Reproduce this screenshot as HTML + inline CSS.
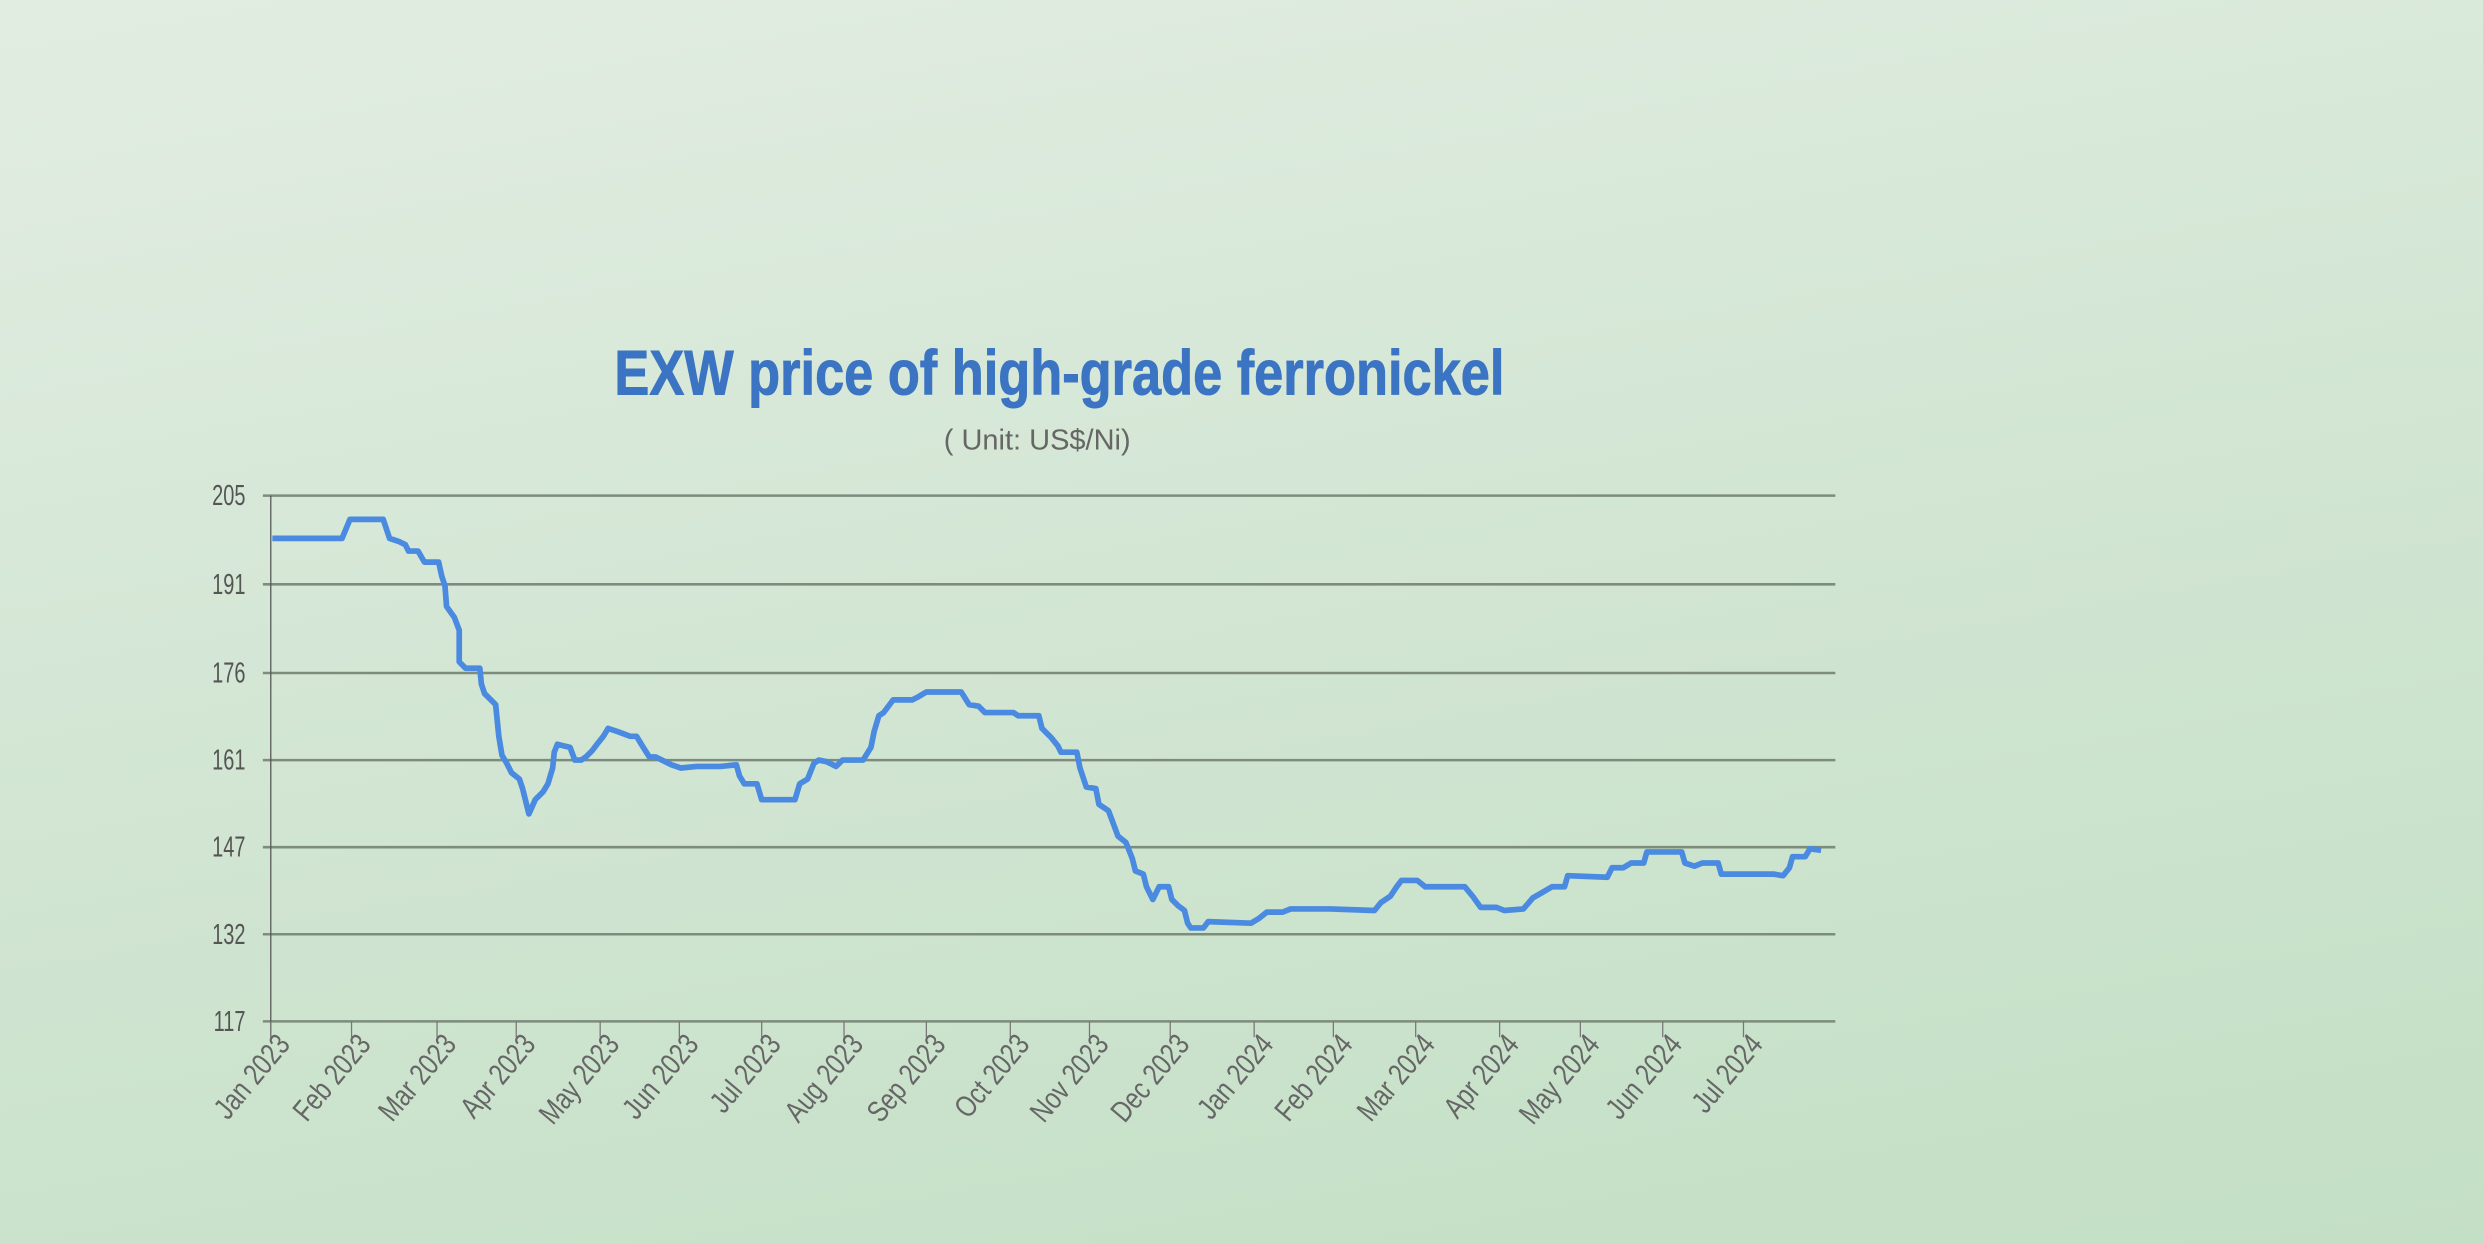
<!DOCTYPE html>
<html><head><meta charset="utf-8"><style>
html,body{margin:0;padding:0;width:2483px;height:1244px;overflow:hidden;}
body{background:linear-gradient(170deg,#e2ede2 0%,#d3e6d4 45%,#c3dfc5 100%);}
svg{display:block}
text{font-family:"Liberation Sans",sans-serif;}
</style></head><body>
<svg width="2483" height="1244" viewBox="0 0 1568 785.6" preserveAspectRatio="none">
<text x="388" y="249" font-size="40" font-weight="bold" fill="#3b74c2" stroke="#3b74c2" stroke-width="0.6" textLength="562" lengthAdjust="spacingAndGlyphs">EXW price of high-grade ferronickel</text>
<text x="596" y="284" font-size="18" fill="#666" textLength="118" lengthAdjust="spacingAndGlyphs">( Unit: US$/Ni)</text>
<g stroke="#7d8c7d" stroke-width="1.6">
<line x1="166" y1="313" x2="1159" y2="313"/>
<line x1="166" y1="369" x2="1159" y2="369"/>
<line x1="166" y1="425" x2="1159" y2="425"/>
<line x1="166" y1="480" x2="1159" y2="480"/>
<line x1="166" y1="535" x2="1159" y2="535"/>
<line x1="166" y1="590" x2="1159" y2="590"/>
<line x1="166" y1="645" x2="1159" y2="645"/>
</g>
<line x1="171" y1="313" x2="171" y2="655" stroke="#555" stroke-width="0.8"/>
<g stroke="#777" stroke-width="0.8">
<line x1="171" y1="645" x2="171" y2="655"/><line x1="222" y1="645" x2="222" y2="655"/><line x1="276" y1="645" x2="276" y2="655"/><line x1="326" y1="645" x2="326" y2="655"/><line x1="379" y1="645" x2="379" y2="655"/><line x1="429" y1="645" x2="429" y2="655"/><line x1="481" y1="645" x2="481" y2="655"/><line x1="533" y1="645" x2="533" y2="655"/><line x1="585" y1="645" x2="585" y2="655"/><line x1="638" y1="645" x2="638" y2="655"/><line x1="688" y1="645" x2="688" y2="655"/><line x1="739" y1="645" x2="739" y2="655"/><line x1="792" y1="645" x2="792" y2="655"/><line x1="842" y1="645" x2="842" y2="655"/><line x1="894" y1="645" x2="894" y2="655"/><line x1="947" y1="645" x2="947" y2="655"/><line x1="998" y1="645" x2="998" y2="655"/><line x1="1050" y1="645" x2="1050" y2="655"/><line x1="1101" y1="645" x2="1101" y2="655"/>
</g>
<g font-size="18" fill="#555" text-anchor="end">
<text transform="translate(155,319) scale(0.7,1)">205</text><text transform="translate(155,375) scale(0.7,1)">191</text><text transform="translate(155,431) scale(0.7,1)">176</text><text transform="translate(155,486) scale(0.7,1)">161</text><text transform="translate(155,541) scale(0.7,1)">147</text><text transform="translate(155,596) scale(0.7,1)">132</text><text transform="translate(155,651) scale(0.7,1)">117</text>
</g>
<g font-size="19" fill="#666" text-anchor="end">
<text transform="translate(184,660) rotate(-50) scale(0.8,1)">Jan 2023</text>
<text transform="translate(235,660) rotate(-50) scale(0.8,1)">Feb 2023</text>
<text transform="translate(289,660) rotate(-50) scale(0.8,1)">Mar 2023</text>
<text transform="translate(339,660) rotate(-50) scale(0.8,1)">Apr 2023</text>
<text transform="translate(392,660) rotate(-50) scale(0.8,1)">May 2023</text>
<text transform="translate(442,660) rotate(-50) scale(0.8,1)">Jun 2023</text>
<text transform="translate(494,660) rotate(-50) scale(0.8,1)">Jul 2023</text>
<text transform="translate(546,660) rotate(-50) scale(0.8,1)">Aug 2023</text>
<text transform="translate(598,660) rotate(-50) scale(0.8,1)">Sep 2023</text>
<text transform="translate(651,660) rotate(-50) scale(0.8,1)">Oct 2023</text>
<text transform="translate(701,660) rotate(-50) scale(0.8,1)">Nov 2023</text>
<text transform="translate(752,660) rotate(-50) scale(0.8,1)">Dec 2023</text>
<text transform="translate(805,660) rotate(-50) scale(0.8,1)">Jan 2024</text>
<text transform="translate(855,660) rotate(-50) scale(0.8,1)">Feb 2024</text>
<text transform="translate(907,660) rotate(-50) scale(0.8,1)">Mar 2024</text>
<text transform="translate(960,660) rotate(-50) scale(0.8,1)">Apr 2024</text>
<text transform="translate(1011,660) rotate(-50) scale(0.8,1)">May 2024</text>
<text transform="translate(1063,660) rotate(-50) scale(0.8,1)">Jun 2024</text>
<text transform="translate(1114,660) rotate(-50) scale(0.8,1)">Jul 2024</text>
</g>
<polyline fill="none" stroke="#4a8ae0" stroke-width="3.6" stroke-linejoin="round" points="172,340 216,340 221,328 242,328 246,340 252,342 256,344 258,348 264,348 268,355 277,355 279,364 281,370 282,383 287,390 290,398 290,418 294,422 303,422 304,432 306,438 313,445 315,465 317,477 320,482 323,488 328,492 330,498 334,514 338,505 343,500 346,495 349,485 350,475 352,470 356,471 360,472 363,480 367,480 370,478 374,474 377,470 381,465 384,460 390,462 398,465 402,465 405,470 410,478 414,478 418,480 424,483 430,485 440,484 455,484 465,483 467,490 470,495 478,495 481,505 502,505 505,495 510,492 514,482 517,480 522,481 528,484 532,480 545,480 550,472 552,462 555,452 558,450 564,442 576,442 580,440 585,437 607,437 612,445 618,446 622,450 640,450 643,452 656,452 658,460 664,466 668,471 670,475 680,475 682,485 686,497 692,498 694,508 700,512 703,520 706,528 711,532 715,542 717,550 722,552 724,560 728,568 732,560 738,560 740,568 744,572 748,575 750,583 752,586 760,586 763,582 790,583 795,580 800,576 810,576 815,574 840,574 868,575 872,570 878,566 882,560 885,556 895,556 900,560 925,560 930,566 935,573 945,573 950,575 962,574 968,567 975,563 980,560 988,560 990,553 1015,554 1018,548 1025,548 1030,545 1038,545 1040,538 1062,538 1064,545 1070,547 1075,545 1085,545 1087,552 1120,552 1126,553 1130,548 1132,541 1140,541 1143,536 1150,537"/>
</svg>
</body></html>
